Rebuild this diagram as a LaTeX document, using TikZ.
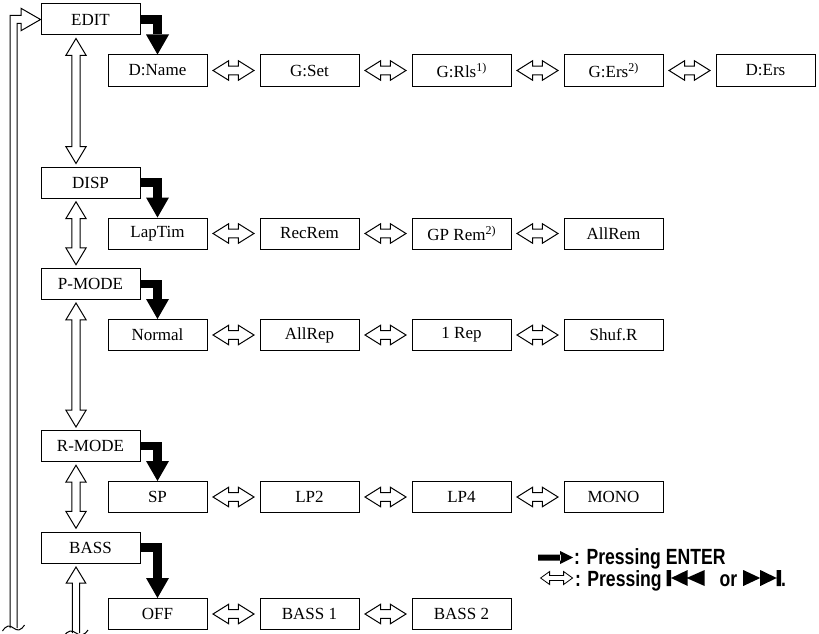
\documentclass[tikz,border=0pt]{standalone}
\usepackage{fontspec}
\setmainfont{Liberation Serif}
\newfontfamily\legendfont[FakeStretch=0.8]{Liberation Sans}
\usetikzlibrary{arrows.meta,positioning,shapes.arrows,calc}

\newcommand{\note}[1]{\raisebox{6.5pt}{\fontsize{12}{12}\selectfont #1}}
\newcommand{\enterkey}{\tikz[x=1pt,y=1pt,baseline=0pt]\fill (0,4) rectangle (23,10) (22,0.5) -- (35,7) -- (22,13.5) -- cycle;}
\newcommand{\skipkey}{\tikz[x=1pt,y=1pt,baseline=0pt]\draw[line width=0.8pt] (0,8) -- (9,14.5) -- (9,10.5) -- (23,10.5) -- (23,14.5) -- (32,8) -- (23,1.5) -- (23,5.5) -- (9,5.5) -- (9,1.5) -- cycle;}
\newcommand{\prevkey}{\tikz[x=1pt,y=1pt,baseline=0pt]\fill (0,0) rectangle (4.5,16) (4.5,8) -- (21,16) -- (21,0) -- cycle (20,8) -- (38,16) -- (38,0) -- cycle;}
\newcommand{\nextkey}{\tikz[x=1pt,y=1pt,baseline=0pt]\fill (0,0) -- (17,8) -- (0,16) -- cycle (17,0) -- (33.5,8) -- (17,16) -- cycle (33.5,0) rectangle (38,16);}

\begin{document}
\begin{tikzpicture}[
  x=1pt, y=-1pt,
  node distance=52pt,
  box/.style={draw,line width=1pt,minimum width=99pt,minimum height=31pt,inner sep=0pt,font=\fontsize{17}{20}\selectfont},
  harr/.style={double arrow,draw,line width=1pt,inner xsep=0pt,inner ysep=3.8pt,double arrow head extend=5.5pt,double arrow tip angle=64,minimum height=41pt},
  varr/.style={double arrow,draw,line width=1pt,rotate=90,inner xsep=0pt,inner ysep=3.7pt,double arrow head extend=6pt,double arrow tip angle=62,minimum height=#1},
  push/.style={line width=8.5pt,-{Triangle[width=23pt,length=20pt,line width=0pt]}},
  hollow/.style={line width=1pt},
  legend/.style={inner sep=0pt,font=\legendfont\bfseries\fontsize{22}{26}\selectfont}
]
\useasboundingbox (0,0) rectangle (819,634);

% menu column
\node[box] (edit) at (90.5,19.5) {EDIT};
\node[box,below=131pt of edit] (disp) {DISP};
\node[box,below=69.5pt of disp] (pmode) {P-MODE};
\node[box,below=130pt of pmode] (rmode) {R-MODE};
\node[box,below=69.5pt of rmode] (bass) {BASS};

% EDIT row
\node[box,below=19pt of edit,xshift=67pt] (dname) {D:Name};
\node[box,right=of dname] (gset) {G:Set};
\node[box,right=of gset] (grls) {G:Rls\note{1)}};
\node[box,right=of grls] (gers) {G:Ers\note{2)}};
\node[box,right=of gers] (ders) {D:Ers};

% DISP row
\node[box,below=19pt of disp,xshift=67pt] (laptim) {LapTim};
\node[box,right=of laptim] (recrem) {RecRem};
\node[box,right=of recrem] (gprem) {GP Rem\note{2)}};
\node[box,right=of gprem] (allrem) {AllRem};

% P-MODE row
\node[box,below=19pt of pmode,xshift=67pt] (normal) {Normal};
\node[box,right=of normal] (allrep) {AllRep};
\node[box,right=of allrep] (onerep) {1 Rep};
\node[box,right=of onerep] (shufr) {Shuf.R};

% R-MODE row
\node[box,below=19pt of rmode,xshift=67pt] (sp) {SP};
\node[box,right=of sp] (lptwo) {LP2};
\node[box,right=of lptwo] (lpfour) {LP4};
\node[box,right=of lpfour] (mono) {MONO};

% BASS row
\node[box,below=34.5pt of bass,xshift=67pt] (off) {OFF};
\node[box,right=of off] (bassone) {BASS 1};
\node[box,right=of bassone] (basstwo) {BASS 2};

% ENTER arrows
\draw[push] (edit.east) -| (dname.north);
\draw[push] (disp.east) -| (laptim.north);
\draw[push] (pmode.east) -| (normal.north);
\draw[push] (rmode.east) -| (sp.north);
\draw[push] (bass.east) -| (off.north);

% skip arrows
\path (dname) -- node[harr] {} (gset);
\path (gset) -- node[harr] {} (grls);
\path (grls) -- node[harr] {} (gers);
\path (gers) -- node[harr] {} (ders);
\path (laptim) -- node[harr] {} (recrem);
\path (recrem) -- node[harr] {} (gprem);
\path (gprem) -- node[harr] {} (allrem);
\path (normal) -- node[harr] {} (allrep);
\path (allrep) -- node[harr] {} (onerep);
\path (onerep) -- node[harr] {} (shufr);
\path (sp) -- node[harr] {} (lptwo);
\path (lptwo) -- node[harr] {} (lpfour);
\path (lpfour) -- node[harr] {} (mono);
\path (off) -- node[harr] {} (bassone);
\path (bassone) -- node[harr] {} (basstwo);

% menu arrows
\path (edit) -- node[xshift=-14.5pt,varr=125pt] {} (disp);
\path (disp) -- node[xshift=-14.5pt,varr=63pt] {} (pmode);
\path (pmode) -- node[xshift=-14.5pt,varr=124pt] {} (rmode);
\path (rmode) -- node[xshift=-14.5pt,varr=63pt] {} (bass);

% cut arrow below BASS
\coordinate (basstip) at ($(bass.south)+(-14.5,3.5)$);
\coordinate (bassend) at ($(bass.south)+(-14.5,69.5)$);
\draw[hollow] ($(bassend)+(-3.7,0)$) |- ($(basstip)+(-9.7,16)$) -- (basstip) -- ++(9.7,16) -| ($(bassend)+(3.7,0)$);
\draw[hollow] ($(bassend)+(-12,3)$) .. controls ($(bassend)+(-8,-3)$) and ($(bassend)+(-4,-3)$) .. (bassend) .. controls ($(bassend)+(4,3)$) and ($(bassend)+(8,3)$) .. ($(bassend)+(12,-3)$);

% return loop
\coordinate (loopend) at (13.5,628);
\draw[hollow] ($(loopend)+(-3.5,0)$) |- ($(edit.west)+(-19.5,-4)$) -- ++(0,-7.2) -- (edit.west) -- ++(-19.5,11.2) -- ++(0,-7.2) -| ($(loopend)+(3.5,0)$);
\draw[hollow] ($(loopend)+(-11,3)$) .. controls ($(loopend)+(-7,-3)$) and ($(loopend)+(-4,-3)$) .. (loopend) .. controls ($(loopend)+(4,3)$) and ($(loopend)+(7,3)$) .. ($(loopend)+(11,-3)$);

% legend
\node[legend,anchor=base west] (legenter) at (538,564.5) {\enterkey\hspace{1pt}: Pressing ENTER};
\node[legend,anchor=base west] (legskip) at (540,586) {\skipkey\hspace{2pt}: Pressing \prevkey\hspace{15pt}or\hspace{6pt}\nextkey.};
\end{tikzpicture}
\end{document}
